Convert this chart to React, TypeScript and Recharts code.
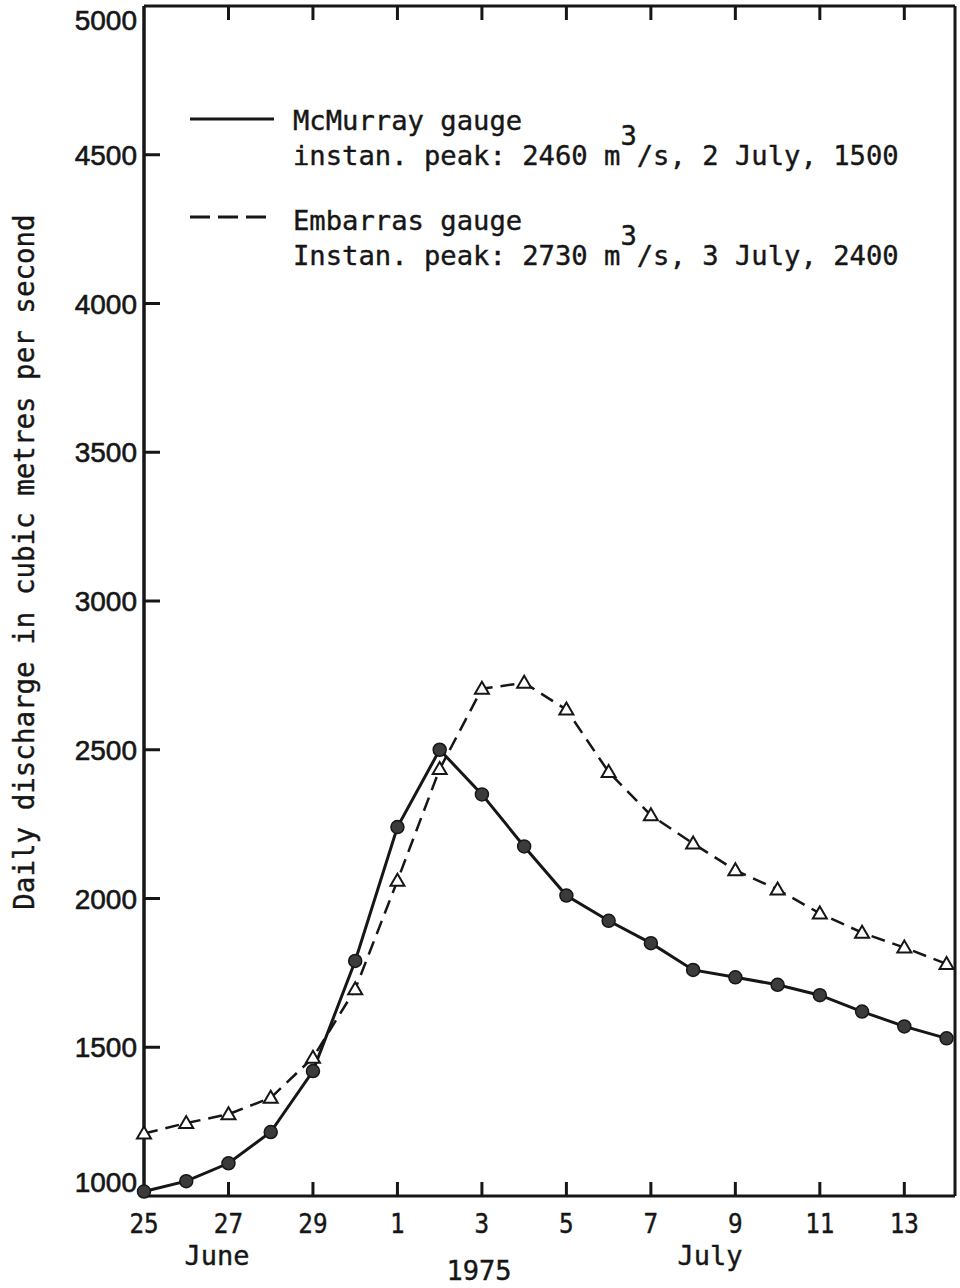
import React from 'react';
import { LineChart, Line, XAxis, YAxis, Legend } from 'recharts';

// Days from 25 June to 14 July 1975
const dayLabels = [
  '25', '26', '27', '28', '29', '30',
  '1', '2', '3', '4', '5', '6', '7', '8', '9', '10', '11', '12', '13', '14',
];

// Daily discharge, m3/s
const mcmurrayFlow = [
  1015, 1050, 1110, 1215, 1420, 1790, 2240, 2500, 2350, 2175,
  2010, 1925, 1850, 1760, 1735, 1710, 1675, 1620, 1570, 1530,
];
const embarrasFlow = [
  1210, 1245, 1275, 1330, 1465, 1695, 2060, 2435, 2705, 2725,
  2635, 2425, 2280, 2185, 2095, 2030, 1950, 1885, 1835, 1780,
];

const yTicks = [1000, 1500, 2000, 2500, 3000, 3500, 4000, 4500, 5000];
const xTickDays = [0, 2, 4, 6, 8, 10, 12, 14, 16, 18];

const data = dayLabels.map((label, i) => ({
  d: i,
  label,
  mcmurray: mcmurrayFlow[i],
  embarras: embarrasFlow[i],
}));

const INK = '#161616';
const MONO = '"DejaVu Sans Mono", monospace';
const SANS = '"Liberation Sans", Arial, sans-serif';
const X_MAX = 19.2;

function LeftTick(props: any) {
  const { x, y, payload } = props;
  const v = payload.value;
  const shift = v === 1000 ? -14 : v === 5000 ? 14 : 0;
  return (
    <g>
      {v !== 1000 && v !== 5000 && (
        <line x1={x} x2={x + 16} y1={y} y2={y} stroke={INK} strokeWidth={3} />
      )}
      <text
        x={x - 7}
        y={y + shift}
        dy="0.36em"
        textAnchor="end"
        fontFamily={SANS}
        fontSize={28}
        fill={INK}
        stroke={INK}
        strokeWidth={0.6}
      >
        {v}
      </text>
    </g>
  );
}

function RightTick(props: any) {
  const { x, y, payload } = props;
  const v = payload.value;
  if (v === 1000 || v === 5000) return <g />;
  return <line x1={x} x2={x - 16} y1={y} y2={y} stroke={INK} strokeWidth={3} />;
}

function BottomTick(props: any) {
  const { x, y, payload } = props;
  const d = payload.value;
  return (
    <g>
      {d !== 0 && <line x1={x} x2={x} y1={y} y2={y - 14} stroke={INK} strokeWidth={3} />}
      <g transform={`translate(${x},${y + 27}) scale(0.9,1)`}>
        <text
          x={0}
          y={0}
          dy="0.36em"
          textAnchor="middle"
          fontFamily={MONO}
          fontSize={27}
          fill={INK}
          stroke={INK}
          strokeWidth={0.4}
        >
          {dayLabels[d]}
        </text>
      </g>
    </g>
  );
}

function TopTick(props: any) {
  const { x, y, payload } = props;
  if (payload.value === 0) return <g />;
  return <line x1={x} x2={x} y1={y} y2={y + 14} stroke={INK} strokeWidth={3} />;
}

function FilledDot(props: any) {
  const { cx, cy } = props;
  if (cx == null || cy == null) return <g />;
  return <circle cx={cx} cy={cy} r={6.5} fill="#3b3b3b" stroke={INK} strokeWidth={1.5} />;
}

function OpenTriangle(props: any) {
  const { cx, cy } = props;
  if (cx == null || cy == null) return <g />;
  const pts = `${cx},${cy - 7} ${cx - 7},${cy + 5} ${cx + 7},${cy + 5}`;
  return <polygon points={pts} fill="#fff" stroke={INK} strokeWidth={2} />;
}

function DischargeTitle() {
  const cx = 24;
  const cy = 562;
  return (
    <text
      x={cx}
      y={cy}
      dy="0.36em"
      textAnchor="middle"
      transform={`rotate(-90, ${cx}, ${cy})`}
      fontFamily={MONO}
      fontSize={27.5}
      fill={INK}
      stroke={INK}
      strokeWidth={0.4}
    >
      Daily discharge in cubic metres per second
    </text>
  );
}

function DateCaption() {
  return (
    <g fontFamily={MONO} fontSize={27} fill={INK} stroke={INK} strokeWidth={0.4} textAnchor="middle">
      <text x={217} y={1255} dy="0.36em">June</text>
      <text x={479} y={1270} dy="0.36em">1975</text>
      <text x={710} y={1255} dy="0.36em">July</text>
    </g>
  );
}

function GaugeKey() {
  return (
    <svg width={760} height={190} style={{ display: 'block', overflow: 'visible' }}>
      <g fontFamily={MONO} fontSize={27.2} fill={INK} stroke={INK} strokeWidth={0.4}>
        <line x1={10} x2={94} y1={29} y2={29} stroke={INK} strokeWidth={3} />
        <text x={113} y={30} dy="0.36em">McMurray gauge</text>
        <text x={113} y={65} dy="0.36em">
          <tspan>instan. peak: 2460 m</tspan>
          <tspan dy={-20}>3</tspan>
          <tspan dy={20}>/s, 2 July, 1500</tspan>
        </text>
        <line x1={10} x2={94} y1={127} y2={127} stroke={INK} strokeWidth={3} strokeDasharray="20 8" />
        <text x={113} y={130} dy="0.36em">Embarras gauge</text>
        <text x={113} y={165} dy="0.36em">
          <tspan>Instan. peak: 2730 m</tspan>
          <tspan dy={-20}>3</tspan>
          <tspan dy={20}>/s, 3 July, 2400</tspan>
        </text>
      </g>
    </svg>
  );
}

export default function App() {
  return (
    <div style={{ position: 'absolute', left: 0, top: 0, width: 960, height: 1288, background: '#fff' }}>
      <LineChart width={960} height={1288} data={data} margin={{ top: 5, right: 4, left: 0, bottom: 0 }}>
        <XAxis
          dataKey="d"
          type="number"
          domain={[0, X_MAX]}
          ticks={xTickDays}
          interval={0}
          tickSize={0}
          tickMargin={0}
          height={92}
          tick={<BottomTick />}
          axisLine={{ stroke: INK, strokeWidth: 3 }}
          tickLine={false}
          label={<DateCaption />}
        />
        <XAxis
          xAxisId="top"
          orientation="top"
          dataKey="d"
          type="number"
          domain={[0, X_MAX]}
          ticks={xTickDays}
          interval={0}
          tickSize={0}
          tickMargin={0}
          height={1}
          tick={<TopTick />}
          axisLine={{ stroke: INK, strokeWidth: 3 }}
          tickLine={false}
        />
        <YAxis
          type="number"
          domain={[1000, 5000]}
          ticks={yTicks}
          interval={0}
          width={144}
          tickSize={0}
          tickMargin={0}
          tick={<LeftTick />}
          axisLine={{ stroke: INK, strokeWidth: 3.5 }}
          tickLine={false}
          label={<DischargeTitle />}
        />
        <YAxis
          yAxisId="right"
          orientation="right"
          type="number"
          domain={[1000, 5000]}
          ticks={yTicks}
          interval={0}
          width={1}
          tickSize={0}
          tickMargin={0}
          tick={<RightTick />}
          axisLine={{ stroke: INK, strokeWidth: 3 }}
          tickLine={false}
        />
        <Legend
          layout="vertical"
          align="center"
          verticalAlign="middle"
          content={<GaugeKey />}
          wrapperStyle={{ left: 180, top: 90, width: 760, height: 190 }}
        />
        <Line
          dataKey="embarras"
          type="linear"
          stroke={INK}
          strokeWidth={2.5}
          strokeDasharray="14 8"
          dot={<OpenTriangle />}
          isAnimationActive={false}
        />
        <Line
          dataKey="mcmurray"
          type="linear"
          stroke={INK}
          strokeWidth={3}
          dot={<FilledDot />}
          isAnimationActive={false}
        />
      </LineChart>
    </div>
  );
}
